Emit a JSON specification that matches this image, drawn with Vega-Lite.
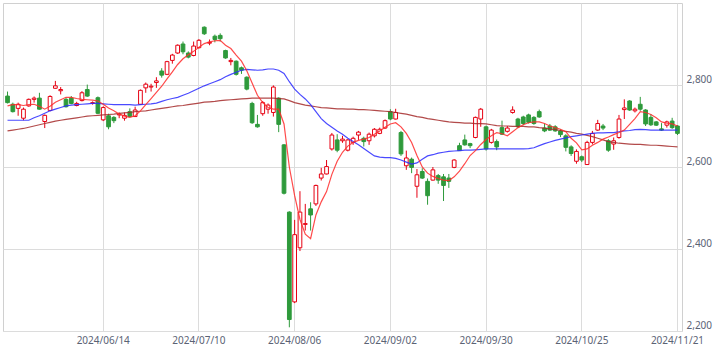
{
  "$schema": "https://vega.github.io/schema/vega-lite/v6.json",
  "width": 679,
  "height": 328,
  "autosize": {"type": "none"},
  "padding": {"left": 3, "top": 3, "right": 42, "bottom": 27},
  "background": "white",
  "config": {
    "view": {"stroke": "#d0d0d0", "strokeWidth": 1},
    "axis": {"labelFont": "Noto Sans", "labelFontSize": 10, "labelColor": "#5b6375", "gridColor": "#dcdcdc", "gridWidth": 1, "ticks": false, "domain": false, "title": null}
  },
  "data": {"values": [
    {"d":"2024/05/21","o":2773,"h":2784,"l":2755,"c":2757,"m5":2749,"m25":2714,"m75":2688},
    {"d":"2024/05/22","o":2753,"h":2757,"l":2733,"c":2735,"m5":2752,"m25":2714,"m75":2690},
    {"d":"2024/05/23","o":2743,"h":2757,"l":2725,"c":2753,"m5":2752,"m25":2714,"m75":2692},
    {"d":"2024/05/24","o":2719,"h":2745,"l":2714,"c":2741,"m5":2750,"m25":2714,"m75":2694},
    {"d":"2024/05/27","o":2749,"h":2767,"l":2747,"c":2765,"m5":2752,"m25":2714,"m75":2697},
    {"d":"2024/05/28","o":2765,"h":2772,"l":2757,"c":2768,"m5":2753,"m25":2720,"m75":2700},
    {"d":"2024/05/29","o":2768,"h":2781,"l":2740,"c":2741,"m5":2748,"m25":2725,"m75":2703},
    {"d":"2024/05/30","o":2711,"h":2728,"l":2695,"c":2726,"m5":2741,"m25":2731,"m75":2706},
    {"d":"2024/05/31","o":2738,"h":2775,"l":2736,"c":2772,"m5":2748,"m25":2737,"m75":2709},
    {"d":"2024/06/03","o":2792,"h":2810,"l":2791,"c":2798,"m5":2758,"m25":2741,"m75":2712},
    {"d":"2024/06/04","o":2786,"h":2795,"l":2777,"c":2789,"m5":2764,"m25":2745,"m75":2714},
    {"d":"2024/06/05","o":2765,"h":2769,"l":2745,"c":2747,"m5":2770,"m25":2749,"m75":2716},
    {"d":"2024/06/06","o":2768,"h":2773,"l":2753,"c":2755,"m5":2770,"m25":2751,"m75":2718},
    {"d":"2024/06/07","o":2750,"h":2759,"l":2748,"c":2755,"m5":2767,"m25":2752,"m75":2720},
    {"d":"2024/06/10","o":2762,"h":2785,"l":2760,"c":2781,"m5":2765,"m25":2753,"m75":2722},
    {"d":"2024/06/11","o":2789,"h":2801,"l":2771,"c":2773,"m5":2764,"m25":2754,"m75":2724},
    {"d":"2024/06/12","o":2755,"h":2760,"l":2752,"c":2757,"m5":2763,"m25":2755,"m75":2725},
    {"d":"2024/06/13","o":2769,"h":2772,"l":2729,"c":2731,"m5":2761,"m25":2755,"m75":2726},
    {"d":"2024/06/14","o":2715,"h":2748,"l":2712,"c":2745,"m5":2753,"m25":2754,"m75":2727},
    {"d":"2024/06/17","o":2725,"h":2730,"l":2692,"c":2698,"m5":2744,"m25":2753,"m75":2728},
    {"d":"2024/06/18","o":2721,"h":2724,"l":2707,"c":2713,"m5":2737,"m25":2752,"m75":2729},
    {"d":"2024/06/19","o":2727,"h":2733,"l":2719,"c":2729,"m5":2729,"m25":2752,"m75":2731},
    {"d":"2024/06/20","o":2719,"h":2733,"l":2713,"c":2726,"m5":2724,"m25":2752,"m75":2732},
    {"d":"2024/06/21","o":2735,"h":2743,"l":2722,"c":2723,"m5":2721,"m25":2752,"m75":2733},
    {"d":"2024/06/24","o":2723,"h":2747,"l":2722,"c":2739,"m5":2725,"m25":2751,"m75":2735},
    {"d":"2024/06/25","o":2753,"h":2789,"l":2752,"c":2787,"m5":2737,"m25":2752,"m75":2736},
    {"d":"2024/06/26","o":2793,"h":2806,"l":2781,"c":2802,"m5":2752,"m25":2753,"m75":2737},
    {"d":"2024/06/27","o":2795,"h":2803,"l":2784,"c":2797,"m5":2767,"m25":2754,"m75":2739},
    {"d":"2024/06/28","o":2806,"h":2819,"l":2793,"c":2810,"m5":2782,"m25":2756,"m75":2741},
    {"d":"2024/07/01","o":2834,"h":2841,"l":2818,"c":2824,"m5":2797,"m25":2760,"m75":2743},
    {"d":"2024/07/02","o":2826,"h":2859,"l":2824,"c":2857,"m5":2815,"m25":2764,"m75":2745},
    {"d":"2024/07/03","o":2860,"h":2876,"l":2852,"c":2873,"m5":2832,"m25":2767,"m75":2747},
    {"d":"2024/07/04","o":2878,"h":2899,"l":2876,"c":2897,"m5":2850,"m25":2770,"m75":2749},
    {"d":"2024/07/05","o":2900,"h":2906,"l":2875,"c":2881,"m5":2864,"m25":2775,"m75":2750},
    {"d":"2024/07/08","o":2878,"h":2882,"l":2865,"c":2868,"m5":2874,"m25":2780,"m75":2752},
    {"d":"2024/07/09","o":2872,"h":2906,"l":2870,"c":2895,"m5":2882,"m25":2786,"m75":2754},
    {"d":"2024/07/10","o":2891,"h":2912,"l":2889,"c":2909,"m5":2892,"m25":2792,"m75":2756},
    {"d":"2024/07/11","o":2941,"h":2943,"l":2922,"c":2925,"m5":2901,"m25":2798,"m75":2758},
    {"d":"2024/07/12","o":2902,"h":2911,"l":2897,"c":2904,"m5":2905,"m25":2803,"m75":2759},
    {"d":"2024/07/16","o":2919,"h":2923,"l":2904,"c":2911,"m5":2908,"m25":2808,"m75":2760},
    {"d":"2024/07/17","o":2921,"h":2926,"l":2906,"c":2913,"m5":2909,"m25":2813,"m75":2762},
    {"d":"2024/07/18","o":2884,"h":2886,"l":2864,"c":2866,"m5":2897,"m25":2820,"m75":2763},
    {"d":"2024/07/19","o":2857,"h":2866,"l":2848,"c":2860,"m5":2889,"m25":2826,"m75":2764},
    {"d":"2024/07/22","o":2858,"h":2860,"l":2823,"c":2826,"m5":2873,"m25":2831,"m75":2765},
    {"d":"2024/07/23","o":2842,"h":2845,"l":2827,"c":2836,"m5":2858,"m25":2836,"m75":2766},
    {"d":"2024/07/24","o":2819,"h":2821,"l":2787,"c":2790,"m5":2835,"m25":2838,"m75":2767},
    {"d":"2024/07/25","o":2755,"h":2759,"l":2705,"c":2708,"m5":2805,"m25":2837,"m75":2768},
    {"d":"2024/07/26","o":2704,"h":2727,"l":2696,"c":2698,"m5":2775,"m25":2836,"m75":2768},
    {"d":"2024/07/29","o":2730,"h":2761,"l":2725,"c":2757,"m5":2757,"m25":2837,"m75":2768},
    {"d":"2024/07/30","o":2741,"h":2755,"l":2730,"c":2751,"m5":2745,"m25":2839,"m75":2768},
    {"d":"2024/07/31","o":2733,"h":2799,"l":2723,"c":2795,"m5":2741,"m25":2839,"m75":2768},
    {"d":"2024/08/01","o":2768,"h":2770,"l":2685,"c":2704,"m5":2741,"m25":2836,"m75":2767},
    {"d":"2024/08/02","o":2654,"h":2656,"l":2533,"c":2536,"m5":2705,"m25":2828,"m75":2766},
    {"d":"2024/08/05","o":2490,"h":2492,"l":2209,"c":2228,"m5":2600,"m25":2808,"m75":2762},
    {"d":"2024/08/06","o":2271,"h":2471,"l":2268,"c":2435,"m5":2530,"m25":2790,"m75":2757},
    {"d":"2024/08/07","o":2403,"h":2541,"l":2395,"c":2490,"m5":2472,"m25":2777,"m75":2754},
    {"d":"2024/08/08","o":2460,"h":2510,"l":2445,"c":2462,"m5":2436,"m25":2766,"m75":2751},
    {"d":"2024/08/09","o":2498,"h":2514,"l":2445,"c":2483,"m5":2425,"m25":2752,"m75":2749},
    {"d":"2024/08/13","o":2510,"h":2557,"l":2505,"c":2555,"m5":2483,"m25":2735,"m75":2747},
    {"d":"2024/08/14","o":2573,"h":2598,"l":2567,"c":2583,"m5":2515,"m25":2718,"m75":2745},
    {"d":"2024/08/15","o":2583,"h":2617,"l":2582,"c":2601,"m5":2540,"m25":2706,"m75":2744},
    {"d":"2024/08/16","o":2644,"h":2683,"l":2640,"c":2678,"m5":2582,"m25":2697,"m75":2743},
    {"d":"2024/08/19","o":2666,"h":2680,"l":2636,"c":2641,"m5":2614,"m25":2688,"m75":2742},
    {"d":"2024/08/20","o":2664,"h":2676,"l":2659,"c":2668,"m5":2636,"m25":2680,"m75":2742},
    {"d":"2024/08/21","o":2641,"h":2668,"l":2638,"c":2666,"m5":2651,"m25":2670,"m75":2741},
    {"d":"2024/08/22","o":2660,"h":2674,"l":2654,"c":2670,"m5":2660,"m25":2662,"m75":2741},
    {"d":"2024/08/23","o":2678,"h":2688,"l":2666,"c":2685,"m5":2665,"m25":2654,"m75":2740},
    {"d":"2024/08/26","o":2670,"h":2674,"l":2650,"c":2662,"m5":2668,"m25":2645,"m75":2740},
    {"d":"2024/08/27","o":2664,"h":2684,"l":2654,"c":2680,"m5":2672,"m25":2636,"m75":2739},
    {"d":"2024/08/28","o":2676,"h":2695,"l":2672,"c":2692,"m5":2680,"m25":2627,"m75":2738},
    {"d":"2024/08/29","o":2682,"h":2696,"l":2680,"c":2692,"m5":2688,"m25":2624,"m75":2737},
    {"d":"2024/08/30","o":2695,"h":2716,"l":2693,"c":2713,"m5":2697,"m25":2623,"m75":2736},
    {"d":"2024/09/02","o":2735,"h":2741,"l":2714,"c":2717,"m5":2705,"m25":2623,"m75":2735},
    {"d":"2024/09/03","o":2717,"h":2742,"l":2716,"c":2733,"m5":2708,"m25":2621,"m75":2733},
    {"d":"2024/09/04","o":2684,"h":2688,"l":2627,"c":2632,"m5":2698,"m25":2617,"m75":2731},
    {"d":"2024/09/05","o":2603,"h":2640,"l":2593,"c":2622,"m5":2682,"m25":2612,"m75":2729},
    {"d":"2024/09/06","o":2619,"h":2623,"l":2585,"c":2599,"m5":2660,"m25":2607,"m75":2726},
    {"d":"2024/09/09","o":2553,"h":2595,"l":2525,"c":2581,"m5":2628,"m25":2610,"m75":2723},
    {"d":"2024/09/10","o":2589,"h":2597,"l":2571,"c":2573,"m5":2600,"m25":2619,"m75":2721},
    {"d":"2024/09/11","o":2565,"h":2572,"l":2508,"c":2530,"m5":2585,"m25":2627,"m75":2718},
    {"d":"2024/09/12","o":2568,"h":2600,"l":2567,"c":2593,"m5":2577,"m25":2630,"m75":2716},
    {"d":"2024/09/13","o":2579,"h":2583,"l":2559,"c":2568,"m5":2572,"m25":2634,"m75":2714},
    {"d":"2024/09/17","o":2576,"h":2583,"l":2517,"c":2555,"m5":2568,"m25":2636,"m75":2712},
    {"d":"2024/09/18","o":2573,"h":2583,"l":2549,"c":2565,"m5":2567,"m25":2638,"m75":2710},
    {"d":"2024/09/19","o":2599,"h":2619,"l":2597,"c":2617,"m5":2576,"m25":2639,"m75":2709},
    {"d":"2024/09/20","o":2652,"h":2659,"l":2639,"c":2640,"m5":2590,"m25":2640,"m75":2708},
    {"d":"2024/09/24","o":2666,"h":2679,"l":2652,"c":2654,"m5":2608,"m25":2641,"m75":2707},
    {"d":"2024/09/25","o":2657,"h":2659,"l":2646,"c":2652,"m5":2628,"m25":2641,"m75":2707},
    {"d":"2024/09/26","o":2672,"h":2723,"l":2670,"c":2721,"m5":2640,"m25":2642,"m75":2706},
    {"d":"2024/09/27","o":2717,"h":2744,"l":2698,"c":2741,"m5":2655,"m25":2643,"m75":2706},
    {"d":"2024/09/30","o":2698,"h":2701,"l":2640,"c":2644,"m5":2667,"m25":2644,"m75":2705},
    {"d":"2024/10/01","o":2660,"h":2693,"l":2657,"c":2690,"m5":2676,"m25":2644,"m75":2703},
    {"d":"2024/10/02","o":2662,"h":2667,"l":2641,"c":2649,"m5":2684,"m25":2644,"m75":2701},
    {"d":"2024/10/03","o":2696,"h":2713,"l":2678,"c":2680,"m5":2681,"m25":2644,"m75":2700},
    {"d":"2024/10/04","o":2687,"h":2700,"l":2684,"c":2695,"m5":2676,"m25":2644,"m75":2700},
    {"d":"2024/10/07","o":2733,"h":2748,"l":2730,"c":2739,"m5":2686,"m25":2644,"m75":2699},
    {"d":"2024/10/08","o":2717,"h":2720,"l":2695,"c":2698,"m5":2696,"m25":2644,"m75":2699},
    {"d":"2024/10/09","o":2722,"h":2725,"l":2702,"c":2706,"m5":2703,"m25":2644,"m75":2699},
    {"d":"2024/10/10","o":2727,"h":2730,"l":2706,"c":2709,"m5":2708,"m25":2645,"m75":2698},
    {"d":"2024/10/11","o":2721,"h":2724,"l":2703,"c":2706,"m5":2710,"m25":2647,"m75":2698},
    {"d":"2024/10/15","o":2735,"h":2740,"l":2720,"c":2722,"m5":2710,"m25":2652,"m75":2696},
    {"d":"2024/10/16","o":2695,"h":2706,"l":2685,"c":2688,"m5":2706,"m25":2657,"m75":2695},
    {"d":"2024/10/17","o":2700,"h":2705,"l":2688,"c":2690,"m5":2700,"m25":2661,"m75":2693},
    {"d":"2024/10/18","o":2698,"h":2702,"l":2686,"c":2688,"m5":2696,"m25":2665,"m75":2691},
    {"d":"2024/10/21","o":2688,"h":2692,"l":2673,"c":2679,"m5":2692,"m25":2668,"m75":2689},
    {"d":"2024/10/22","o":2676,"h":2680,"l":2638,"c":2648,"m5":2686,"m25":2671,"m75":2687},
    {"d":"2024/10/23","o":2649,"h":2653,"l":2627,"c":2633,"m5":2670,"m25":2674,"m75":2685},
    {"d":"2024/10/24","o":2614,"h":2643,"l":2608,"c":2638,"m5":2659,"m25":2676,"m75":2682},
    {"d":"2024/10/25","o":2625,"h":2628,"l":2612,"c":2617,"m5":2642,"m25":2678,"m75":2680},
    {"d":"2024/10/28","o":2606,"h":2664,"l":2605,"c":2660,"m5":2644,"m25":2680,"m75":2677},
    {"d":"2024/10/29","o":2660,"h":2688,"l":2655,"c":2682,"m5":2653,"m25":2682,"m75":2674},
    {"d":"2024/10/30","o":2690,"h":2715,"l":2688,"c":2706,"m5":2660,"m25":2683,"m75":2670},
    {"d":"2024/10/31","o":2700,"h":2705,"l":2690,"c":2695,"m5":2668,"m25":2683,"m75":2666},
    {"d":"2024/11/01","o":2664,"h":2668,"l":2637,"c":2641,"m5":2673,"m25":2684,"m75":2662},
    {"d":"2024/11/05","o":2656,"h":2672,"l":2642,"c":2664,"m5":2679,"m25":2684,"m75":2660},
    {"d":"2024/11/06","o":2672,"h":2727,"l":2669,"c":2717,"m5":2684,"m25":2686,"m75":2658},
    {"d":"2024/11/07","o":2740,"h":2765,"l":2717,"c":2744,"m5":2690,"m25":2688,"m75":2657},
    {"d":"2024/11/08","o":2761,"h":2763,"l":2737,"c":2739,"m5":2704,"m25":2689,"m75":2656},
    {"d":"2024/11/11","o":2737,"h":2745,"l":2733,"c":2741,"m5":2718,"m25":2691,"m75":2655},
    {"d":"2024/11/12","o":2753,"h":2771,"l":2737,"c":2741,"m5":2735,"m25":2692,"m75":2655},
    {"d":"2024/11/13","o":2739,"h":2741,"l":2700,"c":2705,"m5":2733,"m25":2691,"m75":2654},
    {"d":"2024/11/14","o":2721,"h":2729,"l":2700,"c":2703,"m5":2728,"m25":2690,"m75":2653},
    {"d":"2024/11/15","o":2710,"h":2712,"l":2700,"c":2702,"m5":2720,"m25":2690,"m75":2653},
    {"d":"2024/11/18","o":2693,"h":2707,"l":2688,"c":2690,"m5":2710,"m25":2690,"m75":2652},
    {"d":"2024/11/19","o":2702,"h":2713,"l":2696,"c":2710,"m5":2707,"m25":2690,"m75":2651},
    {"d":"2024/11/20","o":2712,"h":2720,"l":2693,"c":2696,"m5":2705,"m25":2690,"m75":2650},
    {"d":"2024/11/21","o":2700,"h":2702,"l":2678,"c":2682,"m5":2700,"m25":2690,"m75":2649}
  ]},
  "encoding": {
    "x": {
      "field": "d", "type": "ordinal", "sort": null,
      "scale": {"type": "band", "paddingInner": 0.3, "paddingOuter": 0.5},
      "axis": {"values": ["2024/06/14","2024/07/10","2024/08/06","2024/09/02","2024/09/30","2024/10/25","2024/11/21"], "labelAngle": 0, "labelPadding": 4, "grid": true, "labelBaseline": "top"}
    }
  },
  "layer": [
    {
      "mark": {"type": "rule", "strokeWidth": 1},
      "encoding": {
        "y": {"field": "l", "type": "quantitative", "scale": {"domain": [2200, 3000], "nice": false, "zero": false},
              "axis": {"orient": "right", "values": [2200, 2400, 2600, 2800], "labelExpr": "format(datum.value, ',')", "grid": true, "labelBaseline": "bottom", "labelOffset": -1, "labelPadding": 4, "labelAlign": "left"}},
        "y2": {"field": "h"},
        "stroke": {"condition": {"test": "datum.c >= datum.o", "value": "#e60012"}, "value": "#2e9a3b"}
      }
    },
    {
      "mark": {"type": "bar", "strokeWidth": 1},
      "encoding": {
        "y": {"field": "o", "type": "quantitative"},
        "y2": {"field": "c"},
        "fill": {"condition": {"test": "datum.c >= datum.o", "value": "#ffffff"}, "value": "#2e9a3b"},
        "stroke": {"condition": {"test": "datum.c >= datum.o", "value": "#e60012"}, "value": "#2e9a3b"}
      }
    },
    {
      "mark": {"type": "line", "color": "#a52a2a", "strokeWidth": 1.2, "opacity": 0.85},
      "encoding": {"y": {"field": "m75", "type": "quantitative"}}
    },
    {
      "mark": {"type": "line", "color": "#2a2aff", "strokeWidth": 1.2, "opacity": 0.85},
      "encoding": {"y": {"field": "m25", "type": "quantitative"}}
    },
    {
      "mark": {"type": "line", "color": "#ff2a2a", "strokeWidth": 1.2, "opacity": 0.85},
      "encoding": {"y": {"field": "m5", "type": "quantitative"}}
    }
  ]
}
